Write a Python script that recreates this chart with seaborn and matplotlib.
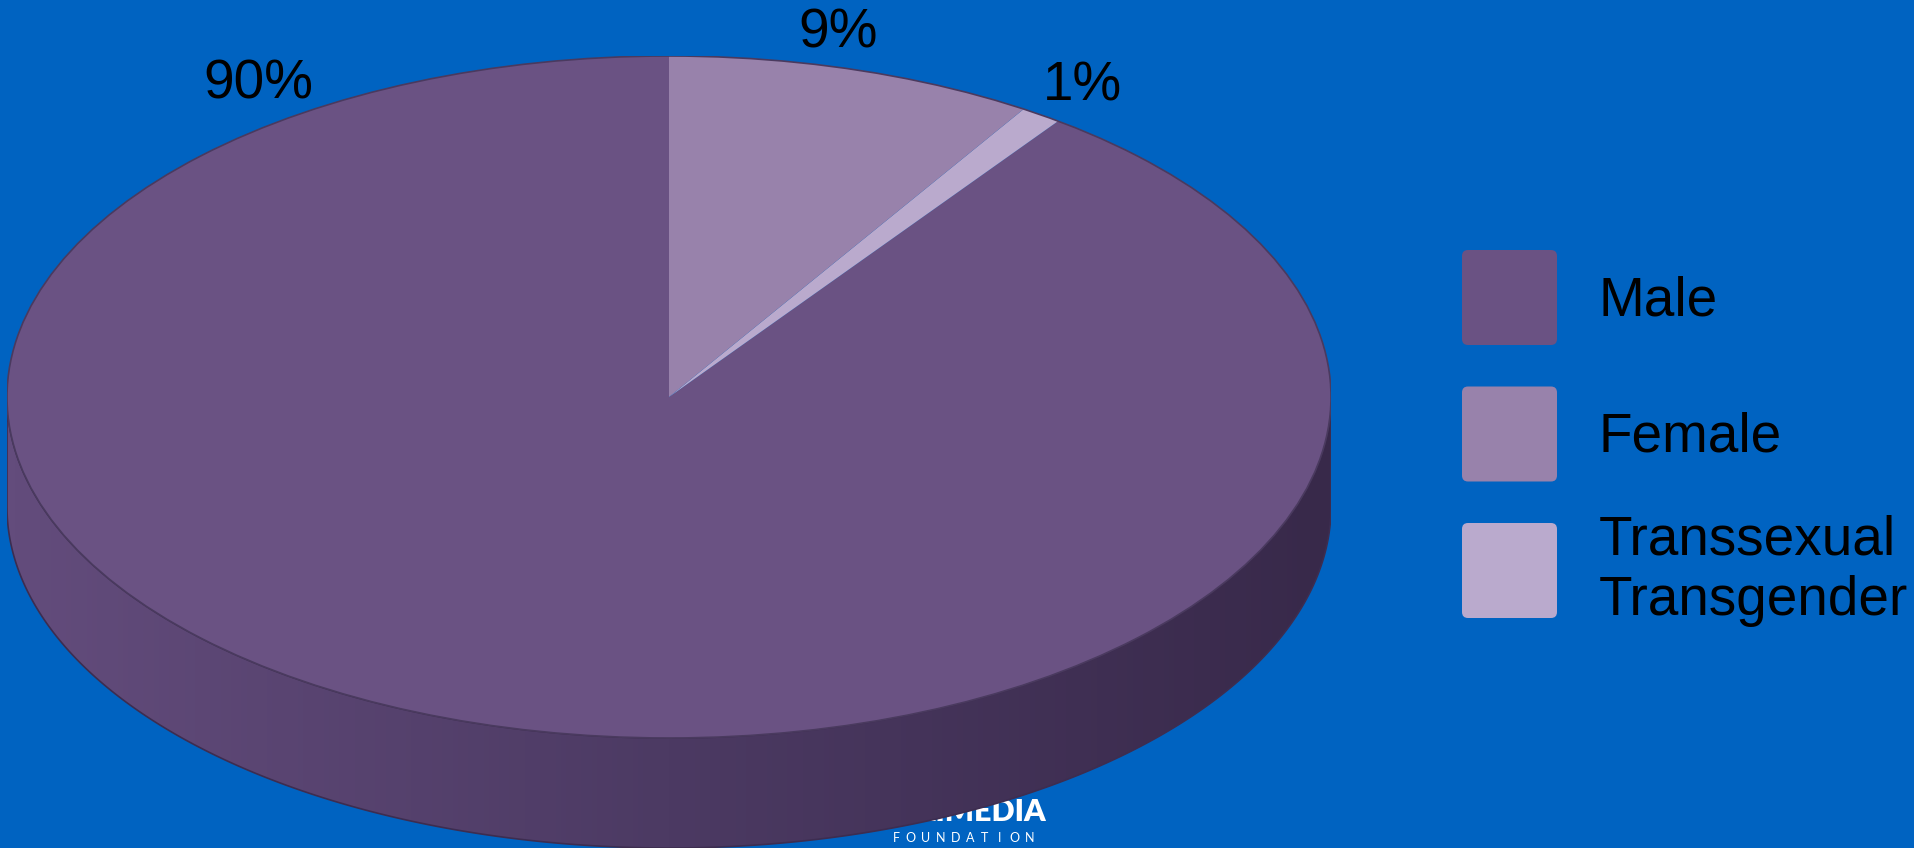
import numpy as np
import matplotlib
matplotlib.use("Agg")
import matplotlib.pyplot as plt
import seaborn as sns
from matplotlib.patches import Polygon, FancyBboxPatch, Ellipse
from matplotlib.colors import LinearSegmentedColormap

# data
categories = ["Male", "Female", "Transsexual\nTransgender"]
shares = [90, 9, 1]
colors = ["#6a5283", "#9882ab", "#baaacd"]
pie_order = [0, 2, 1]          # drawn counter-clockwise from 12 o'clock
label_pos = [(-0.62, 0.915), (0.255, 1.065), (0.625, 0.912)]

sns.set_theme(style="white")
plt.rcParams["font.family"] = ["Liberation Sans", "DejaVu Sans"]

W, H = 1915, 848
bg = "#0063c1"
fig = plt.figure(figsize=(W / 100, H / 100), dpi=100, facecolor=bg)

# logo behind the pie
fig.text(960 / W, 1 - 812 / H, "WIKIMEDIA", color="white", fontsize=22,
         fontweight="heavy", family="Lato", ha="center", va="center", zorder=-2)
for i, ch in enumerate("FOUNDATION"):
    fig.text((896 + i * 14.8) / W, 1 - 838 / H, ch, color="white", fontsize=9,
             family="Lato", ha="center", va="center", zorder=-2)

# pie geometry (pixels)
cx, cy, rx, ry, depth = 669, 397, 662, 341, 110
d = depth / ry
ax = fig.add_axes([(cx - rx) / W, 0, 2 * rx / W, (H - (cy - ry)) / H])
ax.patch.set_visible(False)

vals = [shares[i] for i in pie_order]
cols = [colors[i] for i in pie_order]
wedges, _ = ax.pie(vals, colors=cols, startangle=90, counterclock=True,
                   radius=1, wedgeprops=dict(linewidth=0), frame=False)
for w in wedges:
    w.set_zorder(3)
ax.set_aspect("auto")
ax.set_xlim(-1, 1)
ax.set_ylim(1 - (H - (cy - ry)) / ry, 1)
ax.axis("off")

# side wall with horizontal gradient
t = np.linspace(np.pi, 2 * np.pi, 300)
top = np.column_stack([np.cos(t), np.sin(t)])
bot = np.column_stack([np.cos(t), np.sin(t) - d])[::-1]
side = Polygon(np.vstack([top, bot]), closed=True, facecolor="none",
               edgecolor="#3d2d50", linewidth=1.2, zorder=2)
ax.add_patch(side)
cmap = LinearSegmentedColormap.from_list("side", ["#634c7c", "#4c3a63", "#38294a"])
grad = np.linspace(0, 1, 256).reshape(1, -1)
im = ax.imshow(grad, cmap=cmap, extent=[-1, 1, -1 - d, 0], aspect="auto",
               zorder=1, interpolation="bilinear")
im.set_clip_path(side)
ax.add_patch(Ellipse((0, 0), 2, 2, facecolor="none", edgecolor="#4a3a5f",
                     linewidth=1.2, zorder=4))

for (x, y), v in zip(label_pos, shares):
    ax.text(x, y, f"{v}%", fontsize=39.5, color="black", ha="center",
            va="center", zorder=5)

# legend
lg = fig.add_axes([0, 0, 1, 1])
lg.patch.set_visible(False)
lg.set_xlim(0, W)
lg.set_ylim(H, 0)
lg.axis("off")
for i, (name, c) in enumerate(zip(categories, colors)):
    y0 = 250 + i * 136.5
    lg.add_patch(FancyBboxPatch((1462 + 6, y0 + 6), 95 - 12, 95 - 12,
                                boxstyle="round,pad=6", facecolor=c,
                                edgecolor="none"))
    lg.text(1599, y0 + 51 + (-3 if i == 2 else 0), name, fontsize=39.5,
            color="black", ha="left", va="center", linespacing=1.22)

fig.savefig("out.png", dpi=100, facecolor=bg)
